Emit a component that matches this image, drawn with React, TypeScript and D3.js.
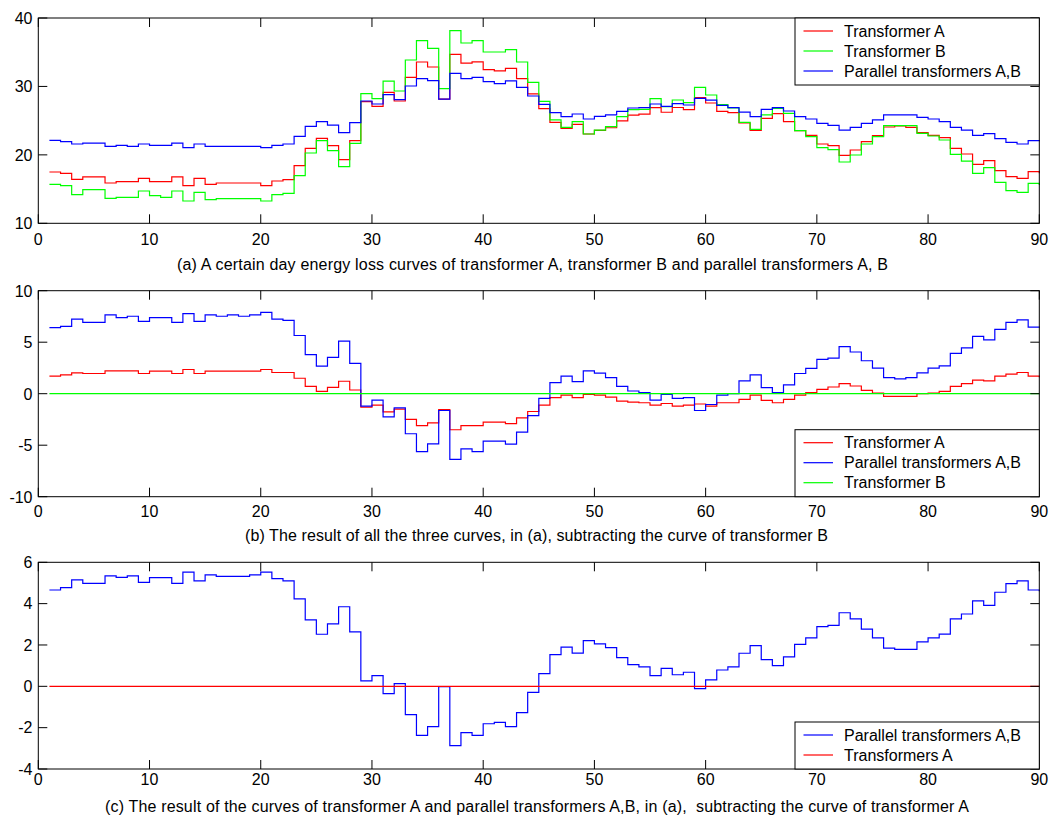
import React from 'react';
import * as d3 from 'd3';

// ---------- data (values at x = 1..90) ----------
const xTickValues = [0, 10, 20, 30, 40, 50, 60, 70, 80, 90];
const yTicksA = [10, 20, 30, 40];
const yTicksB = [-10, -5, 0, 5, 10];
const yTicksC = [-4, -2, 0, 2, 4, 6];

const transformerA = [
  17.5, 17.3, 16.42, 16.77, 16.77, 15.89, 16.08, 16.08, 16.57, 16.08,
  16.08, 16.77, 15.5, 16.57, 15.7, 15.89, 15.89, 15.89, 15.89, 15.5,
  16.18, 16.38, 18.42, 20.95, 22.42, 21.34, 19.3, 22.08, 27.77, 27.1,
  29.14, 27.87, 31.33, 33.57, 32.84, 28.15, 34.69, 33.42, 33.6, 32.45,
  32.26, 32.65, 31.13, 28.9, 26.75, 24.75, 23.88, 24.45, 23.05, 23.58,
  23.96, 24.97, 25.8, 25.96, 26.91, 26.23, 26.92, 26.61, 28.36, 27.58,
  26.36, 26.17, 24.66, 23.58, 25.34, 26.02, 24.85, 23.54, 22.85, 21.59,
  21.34, 19.93, 20.71, 21.93, 22.81, 24.07, 24.22, 24.02, 23.24, 22.85,
  22.51, 20.95, 20.13, 18.62, 19.15, 17.69, 16.81, 16.57, 17.55, 17.3,
];
const transformerB = [
  15.7, 15.5, 14.18, 14.91, 14.91, 13.65, 13.8, 13.8, 14.72, 14.04,
  13.8, 14.72, 13.26, 14.52, 13.45, 13.6, 13.6, 13.6, 13.6, 13.26,
  14.18, 14.38, 16.96, 20.27, 22.08, 20.61, 18.28, 21.69, 28.94, 28.21,
  30.79, 29.33, 33.86, 36.69, 35.57, 29.67, 38.15, 36.35, 36.69, 35.03,
  35.03, 35.37, 33.57, 30.6, 27.82, 25.1, 24.02, 24.85, 23.05, 23.63,
  24.12, 25.58, 26.6, 26.65, 28.21, 27.04, 28.02, 27.63, 29.87, 28.75,
  27.34, 26.85, 24.75, 23.73, 25.83, 26.8, 26.07, 23.54, 22.66, 21.05,
  20.76, 18.96, 19.98, 21.59, 22.66, 24.27, 24.27, 24.27, 23.15, 22.76,
  22.17, 20.08, 19.1, 17.3, 18.13, 15.99, 14.77, 14.52, 15.84, 15.6,
];
const parallelAB = [
  22.12, 21.93, 21.59, 21.73, 21.73, 21.25, 21.39, 21.25, 21.59, 21.39,
  21.39, 21.73, 21.05, 21.59, 21.25, 21.25, 21.25, 21.25, 21.25, 21.05,
  21.39, 21.59, 22.7, 24.17, 24.85, 24.36, 23.24, 24.7, 27.87, 27.43,
  28.8, 28.07, 30.06, 31.13, 30.84, 28.16, 31.9, 31.13, 31.33, 30.7,
  30.4, 30.8, 29.87, 28.6, 27.38, 26.17, 25.58, 25.97, 25.24, 25.63,
  25.83, 26.36, 26.85, 26.9, 27.43, 27.1, 27.48, 27.29, 28.26, 28.0,
  27.24, 26.9, 26.26, 25.58, 26.65, 26.9, 26.41, 25.58, 25.24, 24.6,
  24.32, 23.63, 24.02, 24.6, 25.1, 25.83, 25.83, 25.83, 25.48, 25.24,
  24.85, 24.02, 23.63, 22.85, 23.1, 22.37, 21.83, 21.59, 22.08, 22.0,
];
// panel (b): curves minus transformer B
const aMinusB = [
  1.7, 1.83, 2.03, 1.96, 1.96, 2.22, 2.22, 2.22, 1.96, 2.19,
  2.19, 1.96, 2.35, 1.96, 2.19, 2.19, 2.19, 2.19, 2.19, 2.35,
  2.06, 2.06, 1.5, 0.72, 0.23, 0.62, 1.21, 0.36, -1.31, -1.11,
  -1.76, -1.5, -2.5, -3.1, -2.84, -1.54, -3.5, -3.1, -3.1, -2.75,
  -2.75, -2.9, -2.35, -1.73, -1.11, -0.39, -0.13, -0.39, -0.07, -0.13,
  -0.33, -0.72, -0.82, -0.88, -1.11, -0.95, -1.21, -1.1, -1.0, -1.21,
  -0.88, -0.88, -0.56, -0.13, -0.65, -0.88, -0.56, -0.13, 0.1, 0.42,
  0.65, 0.98, 0.75, 0.33, 0.07, -0.26, -0.26, -0.26, 0.0, 0.07,
  0.23, 0.72, 0.98, 1.31, 1.24, 1.7, 1.9, 2.06, 1.7, 1.6,
];
const parallelMinusB = [
  6.41, 6.54, 7.25, 6.93, 6.93, 7.65, 7.39, 7.52, 7.03, 7.39,
  7.39, 6.93, 7.78, 7.03, 7.65, 7.52, 7.65, 7.52, 7.65, 7.9,
  7.25, 7.12, 5.65, 3.79, 2.68, 3.53, 5.1, 2.94, -1.21, -0.62,
  -2.25, -1.37, -3.89, -5.62, -4.87, -1.63, -6.37, -5.36, -5.62, -4.61,
  -4.61, -4.9, -3.73, -2.12, -0.46, 1.08, 1.7, 1.18, 2.22, 1.99,
  1.57, 0.72, 0.26, 0.1, -0.62, -0.07, -0.46, -0.39, -1.63, -1.05,
  -0.13, 0.0, 1.24, 1.83, 0.59, 0.1, 0.85, 1.96, 2.45, 3.33,
  3.46, 4.58, 4.05, 3.2, 2.48, 1.57, 1.44, 1.57, 2.03, 2.48,
  2.71, 3.92, 4.44, 5.56, 5.23, 6.24, 6.93, 7.16, 6.47, 6.4,
];
const bMinusB = [
  0, 0, 0, 0, 0, 0, 0, 0, 0, 0, 0, 0, 0, 0, 0, 0, 0, 0, 0, 0, 0, 0, 0, 0, 0, 0, 0, 0, 0, 0,
  0, 0, 0, 0, 0, 0, 0, 0, 0, 0, 0, 0, 0, 0, 0, 0, 0, 0, 0, 0, 0, 0, 0, 0, 0, 0, 0, 0, 0, 0,
  0, 0, 0, 0, 0, 0, 0, 0, 0, 0, 0, 0, 0, 0, 0, 0, 0, 0, 0, 0, 0, 0, 0, 0, 0, 0, 0, 0, 0, 0,
];
// panel (c): curves minus transformer A
const parallelMinusA = [
  4.66, 4.77, 5.15, 4.98, 4.98, 5.34, 5.27, 5.34, 5.03, 5.26,
  5.26, 4.98, 5.52, 5.1, 5.39, 5.32, 5.32, 5.32, 5.39, 5.52,
  5.21, 5.1, 4.23, 3.21, 2.52, 3.02, 3.85, 2.63, 0.26, 0.52,
  -0.35, 0.13, -1.37, -2.37, -1.95, -0.02, -2.87, -2.24, -2.37, -1.81,
  -1.74, -1.95, -1.27, -0.29, 0.61, 1.53, 1.9, 1.61, 2.21, 2.05,
  1.87, 1.39, 1.05, 0.94, 0.52, 0.87, 0.56, 0.68, -0.11, 0.31,
  0.79, 0.94, 1.6, 1.97, 1.29, 1.0, 1.42, 2.03, 2.34, 2.89,
  2.95, 3.56, 3.26, 2.77, 2.34, 1.85, 1.79, 1.79, 2.15, 2.34,
  2.53, 3.26, 3.5, 4.13, 3.92, 4.55, 4.97, 5.1, 4.66, 4.6,
];
const aMinusA = bMinusB;

const RED = '#ff0000';
const GREEN = '#00ff00';
const BLUE = '#0000ff';
const FONT = '"Liberation Sans", Arial, Helvetica, sans-serif';

const X_LEFT = 38.3;
const X_RIGHT = 1039.3;
const xScale = d3.scaleLinear().domain([0, 90]).range([X_LEFT, X_RIGHT]);

type Series = { values: number[]; color: string; label: string };

type PanelProps = {
  top: number;
  bottom: number;
  domain: [number, number];
  yTicks: number[];
  draw: Series[];
  legend: Series[];
  legendTop: number;
  caption: string;
  captionX: number;
  captionY: number;
  captionLen: number;
  xLabelY: number;
};

function Panel(p: PanelProps) {
  const y = d3.scaleLinear().domain(p.domain).range([p.bottom, p.top]);
  const line = d3
    .line<number>()
    .x((_, i) => xScale(i + 1))
    .y((d) => y(d))
    .curve(d3.curveStepAfter);
  const TL = 9;
  const legW = X_RIGHT - 795;
  const legH = 7 + 20 * p.legend.length;
  return (
    <g>
      {p.draw.map((s, i) => (
        <path key={i} d={line(s.values) || ''} fill="none" stroke={s.color} strokeWidth={1.2} />
      ))}
      <rect x={X_LEFT} y={p.top} width={X_RIGHT - X_LEFT} height={p.bottom - p.top} fill="none" stroke="#000" strokeWidth={1} />
      {xTickValues.map((t) => (
        <g key={'x' + t}>
          <line x1={xScale(t)} x2={xScale(t)} y1={p.bottom} y2={p.bottom - TL} stroke="#000" />
          <line x1={xScale(t)} x2={xScale(t)} y1={p.top} y2={p.top + TL} stroke="#000" />
          <text x={xScale(t)} y={p.xLabelY} textAnchor="middle" fontSize={16} fontFamily={FONT} fill="#000">
            {t}
          </text>
        </g>
      ))}
      {p.yTicks.map((t) => (
        <g key={'y' + t}>
          <line x1={X_LEFT} x2={X_LEFT + TL} y1={y(t)} y2={y(t)} stroke="#000" />
          <line x1={X_RIGHT} x2={X_RIGHT - TL} y1={y(t)} y2={y(t)} stroke="#000" />
          <text x={32.5} y={y(t) + 5.8} textAnchor="end" fontSize={16} fontFamily={FONT} fill="#000">
            {t}
          </text>
        </g>
      ))}
      <g>
        <rect x={795} y={p.legendTop} width={legW} height={legH} fill="#fff" stroke="#000" strokeWidth={1} />
        {p.legend.map((s, i) => {
          const ly = p.legendTop + 13 + 20 * i;
          return (
            <g key={'l' + i}>
              <line x1={803.5} x2={833} y1={ly} y2={ly} stroke={s.color} strokeWidth={1.2} />
              <text x={844} y={ly + 5.6} fontSize={16} fontFamily={FONT} fill="#000">
                {s.label}
              </text>
            </g>
          );
        })}
      </g>
      <text
        x={p.captionX}
        y={p.captionY}
        fontSize={16}
        fontFamily={FONT}
        fill="#000"
        textLength={p.captionLen}
        lengthAdjust="spacing"
        style={{ whiteSpace: 'pre' }}
      >
        {p.caption}
      </text>
    </g>
  );
}

export default function App() {
  const sA: Series = { values: transformerA, color: RED, label: 'Transformer A' };
  const sB: Series = { values: transformerB, color: GREEN, label: 'Transformer B' };
  const sP: Series = { values: parallelAB, color: BLUE, label: 'Parallel transformers A,B' };

  const bA: Series = { values: aMinusB, color: RED, label: 'Transformer A' };
  const bP: Series = { values: parallelMinusB, color: BLUE, label: 'Parallel transformers A,B' };
  const bB: Series = { values: bMinusB, color: GREEN, label: 'Transformer B' };

  const cP: Series = { values: parallelMinusA, color: BLUE, label: 'Parallel transformers A,B' };
  const cA: Series = { values: aMinusA, color: RED, label: 'Transformers A' };

  return (
    <svg
      width={1052}
      height={820}
      viewBox="0 0 1052 820"
      style={{ position: 'absolute', left: 0, top: 0, background: '#fff' }}
    >
      <rect x={0} y={0} width={1052} height={820} fill="#fff" />
      <Panel
        top={18}
        bottom={223.3}
        domain={[10, 40]}
        yTicks={yTicksA}
        draw={[sA, sB, sP]}
        legend={[sA, sB, sP]}
        legendTop={18}
        caption="(a) A certain day energy loss curves of transformer A, transformer B and parallel transformers A, B"
        captionX={177}
        captionY={269.5}
        captionLen={711}
        xLabelY={244.5}
      />
      <Panel
        top={290.7}
        bottom={496.7}
        domain={[-10, 10]}
        yTicks={yTicksB}
        draw={[bA, bP, bB]}
        legend={[bA, bP, bB]}
        legendTop={496.7 - 67}
        caption="(b) The result of all the three curves, in (a), subtracting the curve of transformer B"
        captionX={245}
        captionY={540.5}
        captionLen={583}
        xLabelY={516.5}
      />
      <Panel
        top={562.3}
        bottom={769}
        domain={[-4, 6]}
        yTicks={yTicksC}
        draw={[cP, cA]}
        legend={[cP, cA]}
        legendTop={769 - 47}
        caption="(c) The result of the curves of transformer A and parallel transformers A,B, in (a),  subtracting the curve of transformer A"
        captionX={105}
        captionY={812}
        captionLen={864}
        xLabelY={784.5}
      />
    </svg>
  );
}
